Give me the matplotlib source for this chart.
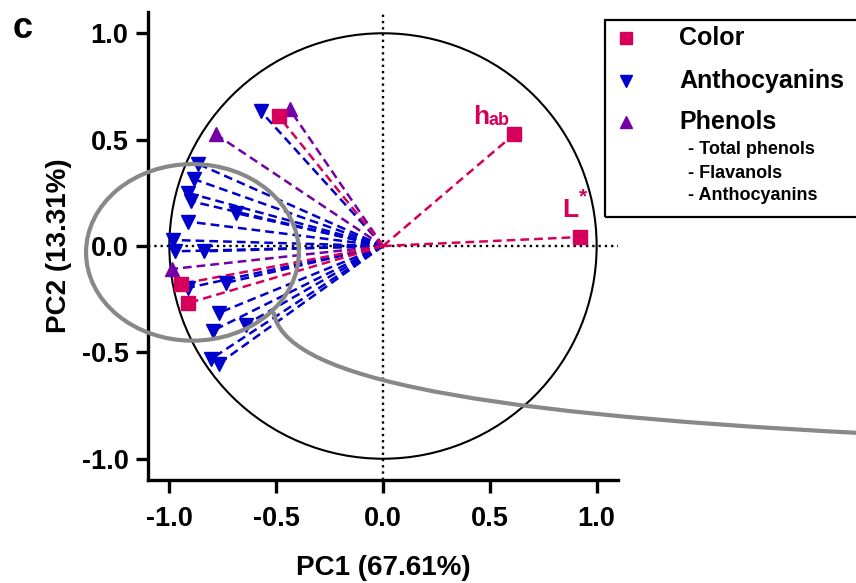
import numpy as np
import matplotlib
matplotlib.use('Agg')
import matplotlib.pyplot as plt
from matplotlib.patches import Ellipse, Circle, Rectangle, PathPatch
from matplotlib.path import Path

plt.rcParams['font.family'] = ['Liberation Sans', 'DejaVu Sans']
plt.rcParams['font.weight'] = 'bold'

# loadings PC1 / PC2
cor_x = [0.615, 0.920, -0.488, -0.944, -0.911]
cor_y = [0.526, 0.042, 0.610, -0.178, -0.268]
fen_x = [-0.437, -0.784, -0.986]
fen_y = [0.643, 0.526, -0.108]
ant_x = [-0.573, -0.864, -0.887, -0.911, -0.901, -0.690, -0.915, -0.981, -0.972,
         -0.836, -0.915, -0.737, -0.770, -0.798, -0.643, -0.803, -0.770]
ant_y = [0.634, 0.385, 0.315, 0.249, 0.211, 0.155, 0.115, 0.028, -0.025,
         -0.025, -0.197, -0.174, -0.315, -0.399, -0.370, -0.530, -0.554]

vermelho = '#D6005A'
azul = '#0000CC'
roxo = '#7300A6'
cinza = '#888888'

fig = plt.figure(figsize=(8.56, 5.83), dpi=100)
ax = fig.add_axes([148/856, 103/583, 470/856, 468/583])

# linhas de zero e círculo unitário
ax.axhline(0, color='black', ls=':', lw=1.7, zorder=1)
ax.axvline(0, color='black', ls=':', lw=1.7, zorder=1)
ax.add_patch(Circle((0, 0), 1.0, fill=False, ec='black', lw=1.5, zorder=1))

# vetores
for xs, ys, cor, mk in [(ant_x, ant_y, azul, 'v'), (fen_x, fen_y, roxo, '^'),
                        (cor_x, cor_y, vermelho, 's')]:
    for x, y in zip(xs, ys):
        ax.plot([0, x], [0, y], color=cor, ls=(0, (3.5, 2)), lw=1.8, zorder=2)
    ax.plot(xs, ys, ls='none', marker=mk, color=cor, ms=10, mec=cor, zorder=3)

ax.text(0.42, 0.575, 'h', color=vermelho, fontsize=19, ha='left', va='baseline')
ax.text(0.492, 0.568, 'ab', color=vermelho, fontsize=13, ha='left', va='baseline')
ax.text(0.84, 0.135, 'L', color=vermelho, fontsize=19, ha='left', va='baseline')
ax.text(0.915, 0.205, '*', color=vermelho, fontsize=15, ha='left', va='baseline')

# elipse cinza e curva de destaque
ax.add_patch(Ellipse((-0.892, -0.03), 0.996, 0.83, fill=False, ec=cinza, lw=3,
                     zorder=5, clip_on=False))
cauda = Path([(-0.512, -0.31), (-0.47, -0.60), (0.30, -0.78), (2.25, -0.88)],
             [Path.MOVETO, Path.CURVE4, Path.CURVE4, Path.CURVE4])
ax.add_patch(PathPatch(cauda, fill=False, ec=cinza, lw=3, zorder=5, clip_on=False))

ax.set_xlim(-1.1, 1.1)
ax.set_ylim(-1.1, 1.1)
ax.set_xticks([-1.0, -0.5, 0.0, 0.5, 1.0])
ax.set_yticks([-1.0, -0.5, 0.0, 0.5, 1.0])
ax.set_xticklabels(['-1.0', '-0.5', '0.0', '0.5', '1.0'])
ax.set_yticklabels(['-1.0', '-0.5', '0.0', '0.5', '1.0'])
ax.spines['top'].set_visible(False)
ax.spines['right'].set_visible(False)
for s in ['left', 'bottom']:
    ax.spines[s].set_linewidth(2.4)
ax.tick_params(axis='both', direction='out', length=9, width=2.4, labelsize=19.5)
ax.tick_params(axis='x', pad=10)
ax.tick_params(axis='y', pad=5)
ax.set_xlabel('PC1 (67.61%)', fontsize=20, fontweight='bold', labelpad=16)
ax.set_ylabel('PC2 (13.31%)', fontsize=20, fontweight='bold', labelpad=7)

fig.text(23/856, 1 - 28/583, 'c', fontsize=26, fontweight='bold', ha='center', va='center')

# legenda desenhada à mão (caixa sai pela direita)
W, H = 856.0, 583.0
fig.add_artist(Rectangle((605/W, 1 - 217/H), 300/W, 197/H, transform=fig.transFigure,
                         fill=False, ec='black', lw=1.6, clip_on=False))
itens = [('s', vermelho, 'Color', 38), ('v', azul, 'Anthocyanins', 81),
         ('^', roxo, 'Phenols', 122)]
for mk, cor, nome, yy in itens:
    fig.add_artist(plt.Line2D([626/W], [1 - yy/H], marker=mk, color=cor, ms=9,
                              ls='none', transform=fig.transFigure))
    fig.text(679/W, 1 - yy/H, nome, fontsize=18, fontweight='bold', va='center')
for nome, yy in [('- Total phenols', 150), ('- Flavanols', 173), ('- Anthocyanins', 196)]:
    fig.text(688/W, 1 - yy/H, nome, fontsize=13, fontweight='bold', va='center')

fig.savefig('out.png', dpi=100)
